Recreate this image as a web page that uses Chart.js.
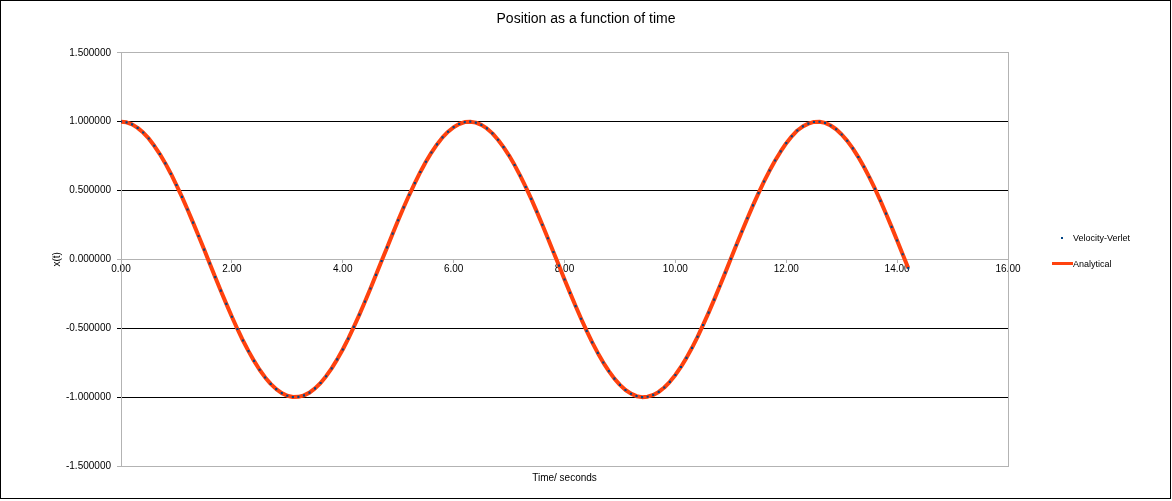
<!DOCTYPE html>
<html>
<head>
<meta charset="utf-8">
<script src="https://cdn.jsdelivr.net/npm/chart.js@4"></script>
<style>
  html, body { margin: 0; padding: 0; background: #fff; }
  #wrap { position: relative; width: 1172px; height: 501px; }
  #frame { position: absolute; left: 0px; top: 0px; width: 1169px; height: 497px; border: 1.5px solid #000; pointer-events: none; box-sizing: content-box; }
  .lg { position: absolute; font-family: "Liberation Sans", Arial, sans-serif; font-size: 9px; color: #000; line-height: 10px; white-space: nowrap; }
  .mk { position: absolute; }
</style>
</head>
<body>
<div id="wrap">
  <canvas id="c" width="1172" height="501"></canvas>
  <div id="frame"></div>
  <div class="mk" style="left:1061px;top:237px;width:2px;height:2px;background:#004586;"></div>
  <div class="lg" style="left:1073px;top:233px;">Velocity-Verlet</div>
  <div class="mk" style="left:1052px;top:262px;width:21px;height:3px;background:#ff420e;"></div>
  <div class="lg" style="left:1073px;top:259px;">Analytical</div>
</div>
<script>
const chartTitle = "Position as a function of time";
const xAxisTitle = "Time/ seconds";
const yAxisTitle = "x(t)";
const seriesNames = ["Velocity-Verlet", "Analytical"];

const timeValues = [
  0.0,0.1,0.2,0.3,0.4,0.5,0.6,0.7,0.8,0.9,
  1.0,1.1,1.2,1.3,1.4,1.5,1.6,1.7,1.8,1.9,
  2.0,2.1,2.2,2.3,2.4,2.5,2.6,2.7,2.8,2.9,
  3.0,3.1,3.2,3.3,3.4,3.5,3.6,3.7,3.8,3.9,
  4.0,4.1,4.2,4.3,4.4,4.5,4.6,4.7,4.8,4.9,
  5.0,5.1,5.2,5.3,5.4,5.5,5.6,5.7,5.8,5.9,
  6.0,6.1,6.2,6.3,6.4,6.5,6.6,6.7,6.8,6.9,
  7.0,7.1,7.2,7.3,7.4,7.5,7.6,7.7,7.8,7.9,
  8.0,8.1,8.2,8.3,8.4,8.5,8.6,8.7,8.8,8.9,
  9.0,9.1,9.2,9.3,9.4,9.5,9.6,9.7,9.8,9.9,
  10.0,10.1,10.2,10.3,10.4,10.5,10.6,10.7,10.8,10.9,
  11.0,11.1,11.2,11.3,11.4,11.5,11.6,11.7,11.8,11.9,
  12.0,12.1,12.2,12.3,12.4,12.5,12.6,12.7,12.8,12.9,
  13.0,13.1,13.2,13.3,13.4,13.5,13.6,13.7,13.8,13.9,
  14.0,14.1,14.2
];

const verletPositions = [
  1.000,0.995,0.980,0.955,0.921,0.878,0.825,0.765,0.697,0.622,
  0.540,0.454,0.362,0.267,0.170,0.071,-0.029,-0.129,-0.227,-0.323,
  -0.416,-0.505,-0.589,-0.666,-0.737,-0.801,-0.857,-0.904,-0.942,-0.971,
  -0.990,-0.999,-0.998,-0.987,-0.967,-0.936,-0.897,-0.848,-0.791,-0.726,
  -0.654,-0.575,-0.490,-0.401,-0.307,-0.211,-0.112,-0.012,0.087,0.187,
  0.284,0.378,0.469,0.554,0.635,0.709,0.776,0.835,0.886,0.927,
  0.960,0.983,0.997,1.000,0.993,0.977,0.951,0.915,0.869,0.815,
  0.754,0.685,0.608,0.526,0.439,0.347,0.252,0.154,0.054,-0.045,
  -0.146,-0.243,-0.339,-0.431,-0.519,-0.602,-0.679,-0.749,-0.811,-0.866,
  -0.911,-0.948,-0.975,-0.993,-1.000,-0.997,-0.984,-0.962,-0.930,-0.889,
  -0.839,-0.781,-0.715,-0.642,-0.562,-0.476,-0.386,-0.292,-0.195,-0.096,
  0.004,0.104,0.203,0.299,0.392,0.481,0.566,0.645,0.718,0.784,
  0.844,0.894,0.936,0.966,0.986,0.998,0.999,0.991,0.972,0.945,
  0.907,0.861,0.806,0.743,0.673,0.596,0.513,0.425,0.332,0.236,
  0.137,0.037,-0.063
];

const analyticalPositions = [
  1.000,0.995,0.980,0.955,0.921,0.878,0.825,0.765,0.697,0.622,
  0.540,0.454,0.362,0.267,0.170,0.071,-0.029,-0.129,-0.227,-0.323,
  -0.416,-0.505,-0.589,-0.666,-0.737,-0.801,-0.857,-0.904,-0.942,-0.971,
  -0.990,-0.999,-0.998,-0.987,-0.967,-0.936,-0.897,-0.848,-0.791,-0.726,
  -0.654,-0.575,-0.490,-0.401,-0.307,-0.211,-0.112,-0.012,0.087,0.187,
  0.284,0.378,0.469,0.554,0.635,0.709,0.776,0.835,0.886,0.927,
  0.960,0.983,0.997,1.000,0.993,0.977,0.951,0.915,0.869,0.815,
  0.754,0.685,0.608,0.526,0.439,0.347,0.252,0.154,0.054,-0.045,
  -0.146,-0.243,-0.339,-0.431,-0.519,-0.602,-0.679,-0.749,-0.811,-0.866,
  -0.911,-0.948,-0.975,-0.993,-1.000,-0.997,-0.984,-0.962,-0.930,-0.889,
  -0.839,-0.781,-0.715,-0.642,-0.562,-0.476,-0.386,-0.292,-0.195,-0.096,
  0.004,0.104,0.203,0.299,0.392,0.481,0.566,0.645,0.718,0.784,
  0.844,0.894,0.936,0.966,0.986,0.998,0.999,0.991,0.972,0.945,
  0.907,0.861,0.806,0.743,0.673,0.596,0.513,0.425,0.332,0.236,
  0.137,0.037,-0.063
];

const xMin = 0, xMax = 16, xStep = 2;
const yMin = -1.5, yMax = 1.5, yStep = 0.5;

const FONT = '"Liberation Sans", Arial, sans-serif';
const GRAY = '#b3b3b3';

function toPoints(xs, ys) {
  return xs.map((x, i) => ({ x: x, y: ys[i] }));
}

new Chart(document.getElementById('c'), {
  type: 'scatter',
  data: {
    datasets: [
      {
        label: seriesNames[0],
        data: toPoints(timeValues, verletPositions),
        showLine: false,
        pointStyle: 'rect',
        pointRadius: 1.5,
        pointBorderWidth: 0,
        pointBackgroundColor: '#004586',
        backgroundColor: '#004586'
      },
      {
        label: seriesNames[1],
        data: toPoints(timeValues, analyticalPositions),
        showLine: true,
        borderColor: '#ff420e',
        backgroundColor: '#ff420e',
        borderWidth: 4,
        pointRadius: 0,
        tension: 0,
        borderJoinStyle: 'round',
        borderCapStyle: 'butt'
      }
    ]
  },
  options: {
    responsive: false,
    animation: false,
    devicePixelRatio: 1,
    layout: { padding: 0 },
    plugins: {
      legend: { display: false },
      tooltip: { enabled: false },
      title: {
        display: true,
        text: chartTitle,
        color: '#000',
        font: { family: FONT, size: 14, weight: 'normal' },
        padding: { top: 11, bottom: 25 }
      }
    },
    scales: {
      x: {
        type: 'linear',
        position: { y: 0 },
        min: xMin, max: xMax,
        ticks: {
          stepSize: xStep,
          color: '#000',
          font: { family: FONT, size: 10 },
          padding: 1,
          maxRotation: 0,
          callback: v => Number(v).toFixed(2)
        },
        grid: { drawOnChartArea: false, drawTicks: true, tickLength: 3, color: GRAY },
        border: { display: true, color: GRAY, width: 1 }
      },
      x2: {
        type: 'linear',
        position: 'bottom',
        min: xMin, max: xMax,
        ticks: { display: false },
        grid: { display: false, drawTicks: false },
        border: { display: false },
        title: {
          display: true,
          text: xAxisTitle,
          color: '#000',
          font: { family: FONT, size: 10 },
          padding: { top: 0, bottom: 17 }
        },
        afterFit: s => { s.height = 35; }
      },
      y: {
        type: 'linear',
        position: 'left',
        min: yMin, max: yMax,
        ticks: {
          stepSize: yStep,
          color: '#000',
          font: { family: FONT, size: 10 },
          padding: 6,
          callback: v => Number(v).toFixed(6)
        },
        grid: {
          drawTicks: true,
          tickLength: 4,
          lineWidth: 1,
          color: ctx => {
            const v = ctx.tick ? Math.round(ctx.tick.value * 100) / 100 : 0;
            return (v === 0 || Math.abs(v) === 1.5) ? GRAY : '#000';
          }
        },
        border: { display: true, color: GRAY, width: 1 },
        title: {
          display: true,
          text: yAxisTitle,
          color: '#000',
          font: { family: FONT, size: 10 },
          padding: { top: 51, bottom: 0 }
        },
        afterFit: s => { s.width = 121; }
      },
      y2: {
        type: 'linear',
        position: 'right',
        min: yMin, max: yMax,
        ticks: { display: false },
        grid: { display: false, drawTicks: false },
        border: { display: true, color: GRAY, width: 1 },
        afterFit: s => { s.width = 164; }
      }
    }
  }
});
</script>
</body>
</html>
